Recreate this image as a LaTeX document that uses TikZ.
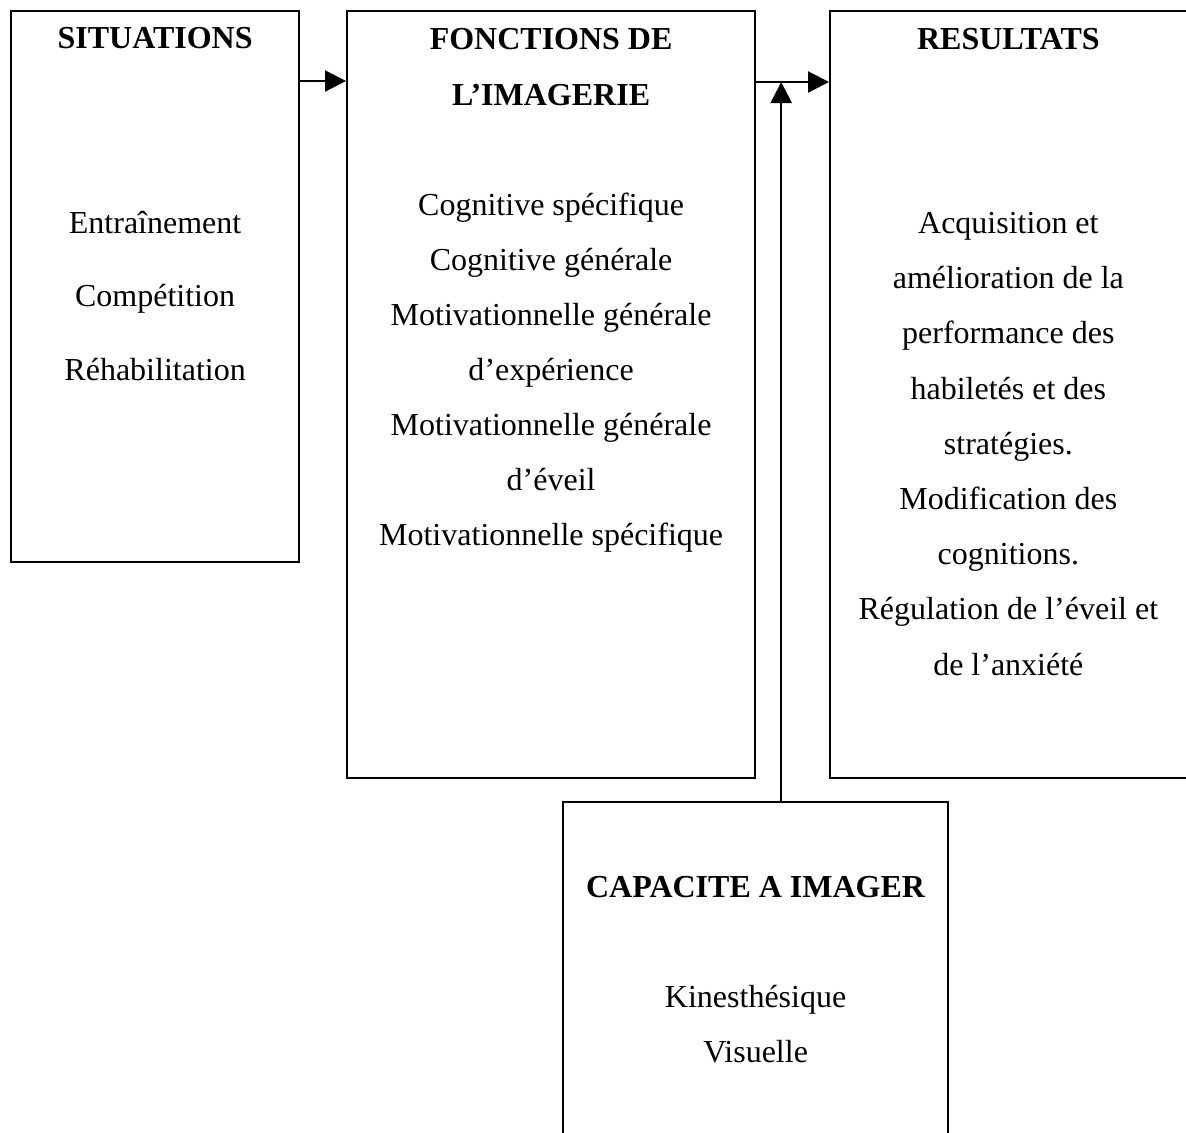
\documentclass[tikz,border=0pt]{standalone}
\usepackage{fontspec}
\setmainfont{Liberation Serif}
\usepackage{tikz}
\usetikzlibrary{calc}
\usetikzlibrary{arrows.meta}

\tikzset{
    box/.style={draw, line width=1.1pt, anchor=north west, inner sep=0pt},
    titre/.style={anchor=base, align=center, font=\fontsize{16pt}{28pt}\selectfont\bfseries},
    texte/.style={anchor=base, align=center, font=\fontsize{16pt}{27.5pt}\selectfont},
    fleche/.style={line width=1.1pt, -{Triangle[length=10.5pt,width=10.5pt]}}
}

\begin{document}
\begin{tikzpicture}[x=0.5pt, y=-0.5pt]
            \path[fill=white, use as bounding box] (0,0) rectangle (1186,1132);
            \clip (0,0) rectangle (1186,1132);
            % les quatre cadres
            \node[box, minimum width=144pt, minimum height=275.5pt] (sit) at (10,10) {};
            \node[box, minimum width=204pt, minimum height=383.5pt] (fct) at (346,10) {};
            \node[box, minimum width=178.25pt, minimum height=383.5pt] (res) at (829,10) {};
            \node[box, minimum width=192.5pt, minimum height=179.5pt] (cap) at (562,801) {};
            % titres (ancre sur la derniere ligne)
            \node[titre] (sittitre) at ($(sit.north)+(0,38)$) {SITUATIONS};
            \node[titre] (fcttitre) at ($(fct.north)+(0,95)$) {FONCTIONS DE\\L’IMAGERIE};
            \node[titre] (restitre) at ($(res.north)+(0,39)$) {RESULTATS};
            \node[titre] (captitre) at ($(cap.north)+(0,96)$) {CAPACITE A IMAGER};
            % contenus
            \node[texte, font=\fontsize{16pt}{36.75pt}\selectfont] (sittexte) at ($(sit.north)+(0,370)$)
                {Entraînement\\Compétition\\Réhabilitation};
            \node[texte] (fcttexte) at ($(fct.north)+(0,535)$)
                {Cognitive spécifique\\Cognitive générale\\Motivationnelle générale\\d’expérience\\
                 Motivationnelle générale\\d’éveil\\Motivationnelle spécifique};
            \node[texte, font=\fontsize{16pt}{27.6pt}\selectfont] (restexte) at ($(res.north)+(0,665)$)
                {Acquisition et\\amélioration de la\\performance des\\habiletés et des\\stratégies.\\
                 Modification des\\cognitions.\\Régulation de l’éveil et\\de l’anxiété};
            \node[texte] (captexte) at ($(cap.north)+(0,261)$) {Kinesthésique\\Visuelle};
            % fleches
            \coordinate (jonction) at ($(fct.north east)+(25,72)$);
            \draw[fleche] ($(sit.north east)+(0,71)$) -- ($(fct.north west)+(0,71)$);
            \draw[fleche] ($(fct.north east)+(0,72)$) -- ($(res.north west)+(0,72)$);
            \draw[fleche] (cap.north -| jonction) -- (jonction);
\end{tikzpicture}
\end{document}
